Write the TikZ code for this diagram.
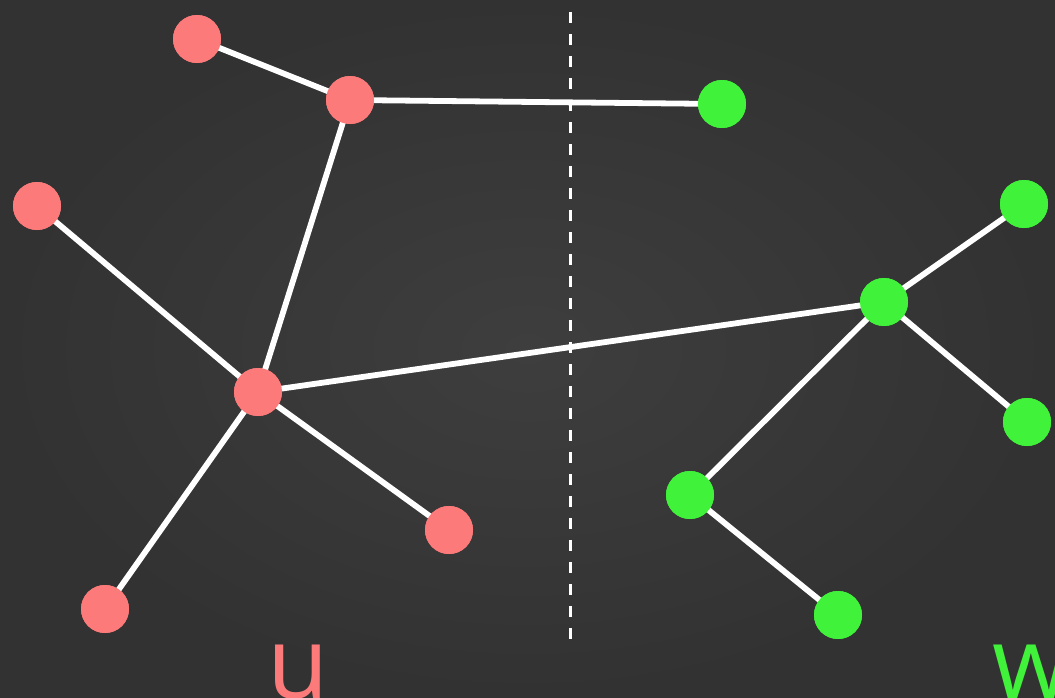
\documentclass[tikz,border=0pt]{standalone}
\usepackage{fontspec}
\newfontfamily\labelfont{Open Sans}
\definecolor{board}{RGB}{50,50,50}
\definecolor{boardlight}{RGB}{62,62,62}
\definecolor{redv}{RGB}{252,122,122}
\definecolor{greenv}{RGB}{64,242,58}
\tikzset{
  edge/.style={draw=white, line width=5.8pt},
  rv/.style={circle, fill=redv, minimum size=48pt, inner sep=0pt},
  gv/.style={circle, fill=greenv, minimum size=48pt, inner sep=0pt},
  setlabel/.style={font=\labelfont\fontsize{100}{100}\selectfont, inner sep=0pt},
}
\begin{document}
\begin{tikzpicture}[x=1pt, y=-1pt]
  \path[use as bounding box] (0,0) rectangle (1055,697);
  \clip (0,0) rectangle (1055,697);
  % chalkboard, slightly lighter towards the middle
  \shade[inner color=boardlight, outer color=board] (0,0) rectangle (1055,697);

  % dividing line between the two vertex sets
  \coordinate (cuttop) at (570,12);
  \coordinate (cutbot) at (570,642);
  \draw[white, line width=3pt, dash pattern=on 11pt off 11pt] (cuttop) -- (cutbot);

  % vertices of u
  \node[rv] (a) at (197,39) {};
  \node[rv] (b) at (350,100) {};
  \node[rv] (c) at (37,206) {};
  \node[rv] (d) at (258,392) {};
  \node[rv] (e) at (449,530) {};
  \node[rv] (f) at (105,609) {};
  % vertices of w
  \node[gv] (g) at (722,104) {};
  \node[gv] (h) at (1024,204) {};
  \node[gv] (i) at (884,302) {};
  \node[gv] (j) at (1027,422) {};
  \node[gv] (k) at (690,495) {};
  \node[gv] (l) at (838,615) {};

  % edges
  \path[edge] (a.center) -- (b.center);
  \path[edge] (b.center) -- (g.center);
  \path[edge] (b.center) -- (d.center);
  \path[edge] (c.center) -- (d.center);
  \path[edge] (d.center) -- (i.center);
  \path[edge] (d.center) -- (e.center);
  \path[edge] (d.center) -- (f.center);
  \path[edge] (i.center) -- (h.center);
  \path[edge] (i.center) -- (j.center);
  \path[edge] (i.center) -- (k.center);
  \path[edge] (k.center) -- (l.center);

  % vertices redrawn on top of the edges
  \foreach \n/\s in {a/rv,b/rv,c/rv,d/rv,e/rv,f/rv,g/gv,h/gv,i/gv,j/gv,k/gv,l/gv}
    \node[\s] at (\n) {};

  % set labels
  \node[setlabel, text=redv, anchor=base] (ulabel) at (298,698) {u};
  \node[setlabel, text=greenv, anchor=base west] (wlabel) at (992,698) {w};
\end{tikzpicture}
\end{document}
